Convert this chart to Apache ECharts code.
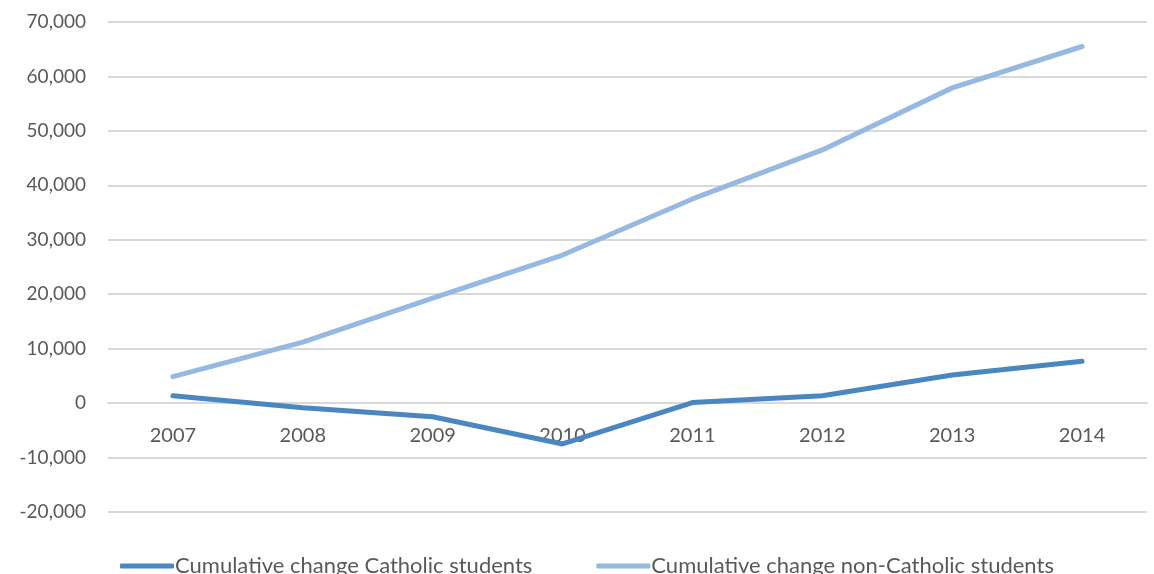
<!DOCTYPE html>
<html>
<head>
<meta charset="utf-8">
<script src="https://cdn.jsdelivr.net/npm/echarts@6/dist/echarts.min.js"></script>
<style>html,body{margin:0;padding:0;background:#fff}#c{width:1154px;height:574px}</style>
</head>
<body>
<div id="c"></div>
<script>
const categories = ['2007','2008','2009','2010','2011','2012','2013','2014'];
const catholic = [1350, -850, -2500, -7500, 100, 1350, 5150, 7700];
const nonCatholic = [4850, 11200, 19300, 27200, 37500, 46500, 57900, 65500];
const seriesNames = ['Cumulative change Catholic students', 'Cumulative change non-Catholic students'];
const yMin = -20000, yMax = 70000, yStep = 10000;

const font = 'Lato, "Open Sans", sans-serif';
const gridTop = 22, gridBottom = 62, H = 574;
const plotH = H - gridTop - gridBottom;
// move the category axis up to the zero line
const zeroOffset = -plotH * (0 - yMin) / (yMax - yMin);

const chart = echarts.init(document.getElementById('c'));
chart.setOption({
  animation: false,
  backgroundColor: '#fff',
  grid: {left: 108, right: 7, top: gridTop, bottom: gridBottom, containLabel: false},
  legend: {
    top: 550,
    left: 115,
    itemGap: 64,
    icon: 'roundRect',
    itemWidth: 54,
    itemHeight: 5,
    textStyle: {fontFamily: font, fontSize: 22, color: '#595959', padding: [0,0,0,-4]},
    data: seriesNames
  },
  xAxis: {
    type: 'category',
    data: categories,
    boundaryGap: true,
    position: 'bottom',
    offset: zeroOffset,
    axisLine: {onZero: false, lineStyle: {color: '#d9d9d9', width: 2}},
    axisTick: {show: false},
    axisLabel: {color: '#595959', fontFamily: font, fontSize: 20, margin: 22}
  },
  yAxis: {
    type: 'value',
    min: yMin, max: yMax, interval: yStep,
    axisLine: {show: false},
    axisTick: {show: false},
    splitLine: {lineStyle: {color: '#d9d9d9', width: 2}},
    axisLabel: {color: '#595959', fontFamily: font, fontSize: 19, margin: 22,
      formatter: v => v.toLocaleString('en-US')}
  },
  series: [
    {name: seriesNames[0], type: 'line', data: catholic, symbol: 'none', z: 3,
     lineStyle: {width: 5, color: '#4a86c0', cap: 'round'}, itemStyle: {color: '#4a86c0'}},
    {name: seriesNames[1], type: 'line', data: nonCatholic, symbol: 'none', z: 2,
     lineStyle: {width: 5, color: '#95b9e1', cap: 'round'}, itemStyle: {color: '#95b9e1'}}
  ]
});
</script>
</body>
</html>
